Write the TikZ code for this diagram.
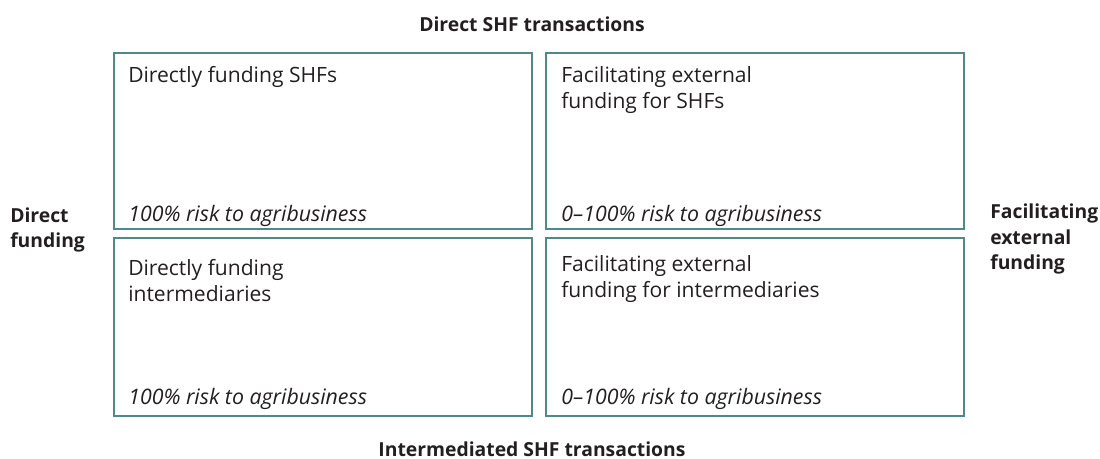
\documentclass[tikz,border=0pt]{standalone}
\usepackage{fontspec}
\setmainfont{Open Sans}
\definecolor{teal}{HTML}{4F8A8B}
\definecolor{txt}{HTML}{231F20}
\begin{document}
\begin{tikzpicture}[x=0.75pt,y=-0.75pt,
  ttl/.style={anchor=north west,align=left,font=\fontsize{15.8}{19.3}\selectfont,text=txt,inner sep=0pt},
  risk/.style={anchor=base west,font=\fontsize{16}{19.5}\selectfont\itshape,text=txt,inner sep=0pt},
  lab/.style={font=\fontsize{14.5}{18.8}\selectfont\bfseries,text=txt,inner sep=0pt},
  frame/.style={draw=teal,line width=1.6pt}]
\useasboundingbox (0,0) rectangle (1100,459);
\draw[frame] (114,53) rectangle (532,229);
\draw[frame] (546,53) rectangle (964,229);
\draw[frame] (114,238) rectangle (532,416);
\draw[frame] (546,238) rectangle (964,416);
\node[ttl] (t1) at (128,66) {Directly funding SHFs};
\node[ttl] (t2) at (561,66) {Facilitating external\\funding for SHFs};
\node[ttl] (t3) at (128,259) {Directly funding\\intermediaries};
\node[ttl] (t4) at (561,255) {Facilitating external\\funding for intermediaries};
\node[risk] (r1) at (128,222) {100\% risk to agribusiness};
\node[risk] (r2) at (561,222) {0–100\% risk to agribusiness};
\node[risk] (r3) at (128,404.5) {100\% risk to agribusiness};
\node[risk] (r4) at (561,404.5) {0–100\% risk to agribusiness};
\node[lab] (top) at (532,24) {Direct SHF transactions};
\node[lab] (bot) at (532,449) {Intermediated SHF transactions};
\node[lab,align=left,anchor=west] (lft) at (10,230) {Direct\\funding};
\node[lab,align=left,anchor=west] (rgt) at (990,239) {Facilitating\\external\\funding};
\end{tikzpicture}
\end{document}
